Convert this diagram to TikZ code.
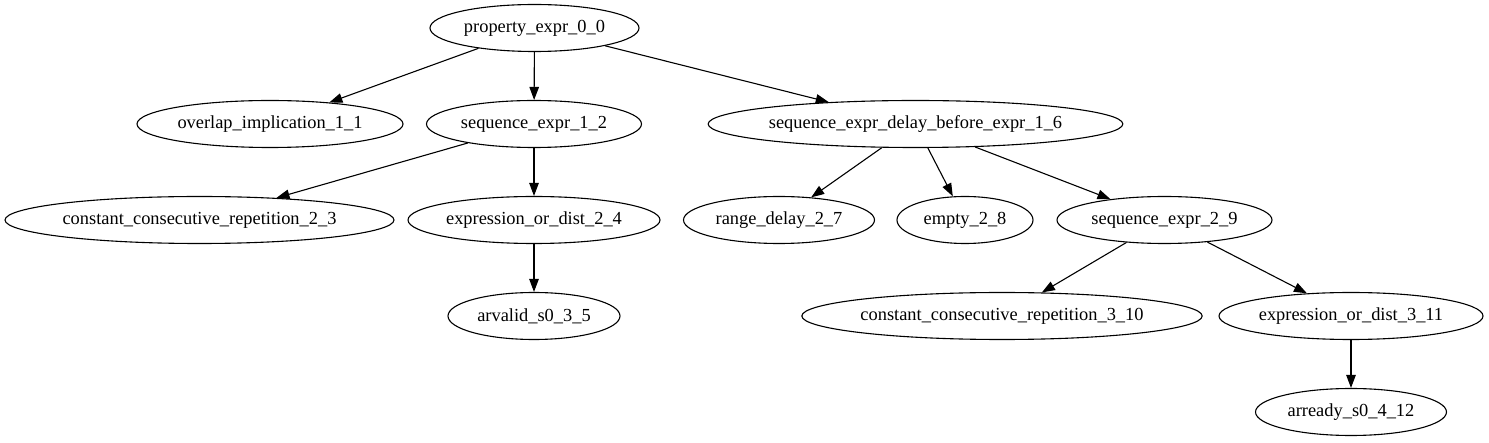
\documentclass[tikz,border=0pt]{standalone}
\usepackage{fontspec}
\setmainfont{Liberation Serif}
\usetikzlibrary{shapes.geometric,arrows.meta}
\begin{document}
\begin{tikzpicture}[x=1pt,y=-1pt,
  gv/.style={draw,ellipse,line width=1.1pt,inner sep=0pt,minimum height=47pt,
    font=\fontsize{18.4}{20}\selectfont},
  edge/.style={line width=1.1pt,-{Triangle[length=13pt,width=9.5pt]}}]
\useasboundingbox (0,0) rectangle (1489,443);
\node[gv,minimum width=209pt] (p00) at (534.5,28) {property\_expr\_0\_0};
\node[gv,minimum width=266pt] (ov11) at (270,124) {overlap\_implication\_1\_1};
\node[gv,minimum width=215pt] (s12) at (534,124) {sequence\_expr\_1\_2};
\node[gv,minimum width=403pt] (d16) at (915.5,124) {sequence\_expr\_delay\_before\_expr\_1\_6};
\node[gv,minimum width=389pt] (c23) at (199.5,220) {constant\_consecutive\_repetition\_2\_3};
\node[gv,minimum width=252pt] (e24) at (534,220) {expression\_or\_dist\_2\_4};
\node[gv,minimum width=191pt] (r27) at (779,220) {range\_delay\_2\_7};
\node[gv,minimum width=136pt] (e28) at (965,220) {empty\_2\_8};
\node[gv,minimum width=215pt] (s29) at (1164.5,220) {sequence\_expr\_2\_9};
\node[gv,minimum width=172pt] (a35) at (534,316) {arvalid\_s0\_3\_5};
\node[gv,minimum width=395pt] (c310) at (1002,316) {constant\_consecutive\_repetition\_3\_10};
\node[gv,minimum width=264pt] (e311) at (1351,316) {expression\_or\_dist\_3\_11};
\node[gv,minimum width=191pt] (ar412) at (1351,412) {arready\_s0\_4\_12};
\draw[edge] (p00) -- (ov11);
\draw[edge] (p00) -- (s12);
\draw[edge] (p00) -- (d16);
\draw[edge] (s12) -- (c23);
\draw[edge] (s12) -- (e24);
\draw[edge] (e24) -- (a35);
\draw[edge] (d16) -- (r27);
\draw[edge] (d16) -- (e28);
\draw[edge] (d16) -- (s29);
\draw[edge] (s29) -- (c310);
\draw[edge] (s29) -- (e311);
\draw[edge] (e311) -- (ar412);
\end{tikzpicture}
\end{document}
